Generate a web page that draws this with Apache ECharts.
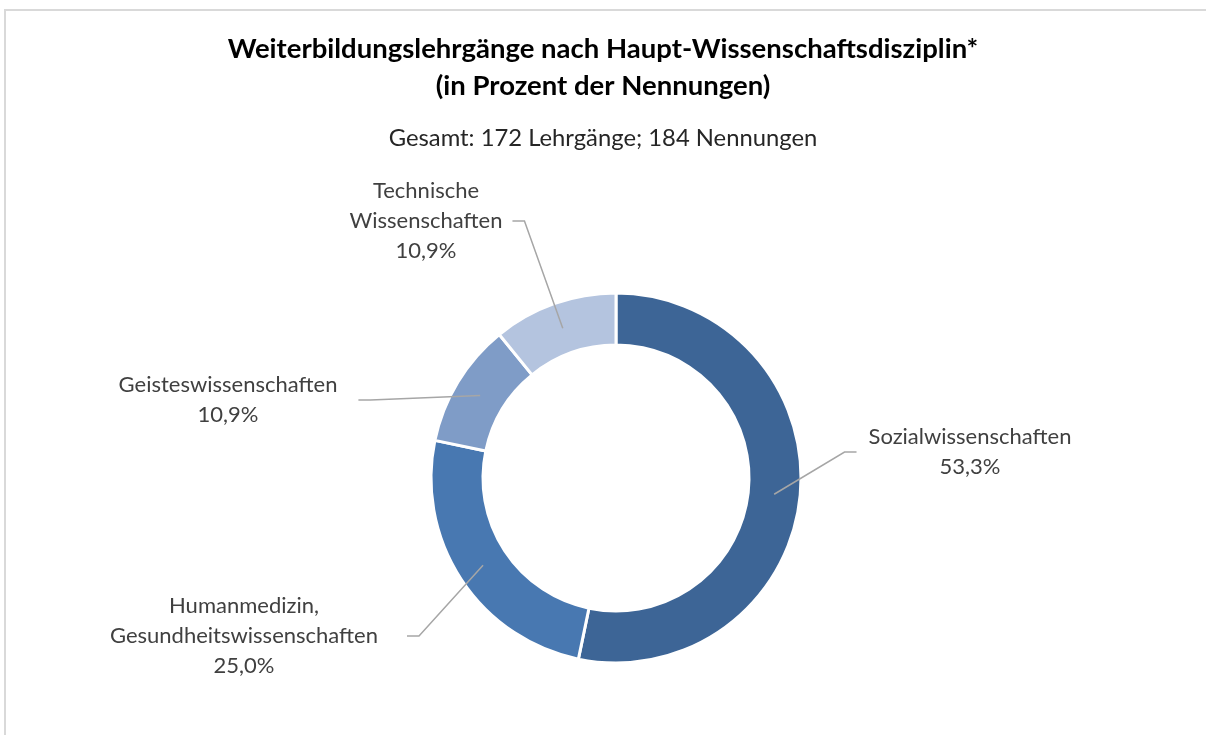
<!DOCTYPE html>
<html>
<head>
<meta charset="utf-8">
<style>
  html, body { margin: 0; padding: 0; background: #fff; }
  #chart { width: 1206px; height: 735px; }
</style>
<script src="https://cdn.jsdelivr.net/npm/echarts@6/dist/echarts.min.js"></script>
</head>
<body>
<div id="chart"></div>
<script>
// Nennungen je Hauptdisziplin (184 gesamt)
var categories = ['Sozialwissenschaften', 'Humanmedizin,\nGesundheitswissenschaften', 'Geisteswissenschaften', 'Technische\nWissenschaften'];
var counts = [98, 46, 20, 20];
var colors = ['#3d6596', '#4878b1', '#7f9cc7', '#b4c4df'];

var total = counts.reduce(function (a, b) { return a + b; }, 0);

// where Excel put each label (centre of text block)
var labelSpots = [[970, 452], [244, 636], [228, 400], [426, 221]];
var labelPad = [12, 29, 21, 10];

var font = 'Lato, "Open Sans", sans-serif';

function pct(v) {
    return (v / total * 100).toFixed(1).replace('.', ',') + '%';
}

var chart = echarts.init(document.getElementById('chart'));

var option = {
    animation: false,
    textStyle: { fontFamily: font },
    graphic: [{
        type: 'rect',
        silent: true,
        shape: { x: 5, y: 10, width: 1400, height: 900 },
        style: { fill: null, stroke: '#d9d9d9', lineWidth: 2 }
    }],
    title: [{
        text: 'Weiterbildungslehrgänge nach Haupt-Wissenschaftsdisziplin*\n(in Prozent der Nennungen)',
        left: 'center',
        top: 31,
        padding: 0,
        textStyle: {
            fontFamily: font,
            fontSize: 27.5,
            fontWeight: 'bold',
            color: '#000',
            lineHeight: 37
        }
    }, {
        text: 'Gesamt: 172 Lehrgänge; 184 Nennungen',
        left: 'center',
        top: 125,
        padding: 0,
        textStyle: {
            fontFamily: font,
            fontSize: 23.8,
            fontWeight: 'normal',
            color: '#262626',
            lineHeight: 26
        }
    }],
    series: [{
        // the ring itself
        type: 'pie',
        z: 2,
        center: [616, 478],
        radius: [133, 185],
        startAngle: 90,
        silent: true,
        label: { show: false },
        labelLine: { show: false },
        itemStyle: { borderColor: '#fff', borderWidth: 3 },
        data: categories.map(function (c, i) {
            return { name: c, value: counts[i], itemStyle: { color: colors[i] } };
        })
    }, {
        // invisible twin, only carries labels + leader lines from mid-ring
        type: 'pie',
        z: 6,
        center: [616, 478],
        radius: [0, 159],
        startAngle: 90,
        silent: true,
        itemStyle: { color: 'rgba(0,0,0,0)', borderWidth: 0 },
        label: {
            show: true,
            position: 'outside',
            fontFamily: font,
            fontSize: 22,
            lineHeight: 30,
            color: '#404040',
            align: 'center',
            formatter: function (p) {
                return p.name + '\n' + pct(p.value);
            }
        },
        labelLine: {
            show: true,
            length: 20,
            length2: 12,
            lineStyle: { color: '#a6a6a6', width: 1.5 }
        },
        labelLayout: function (p) {
            var s = labelSpots[p.dataIndex];
            return { x: s[0], y: s[1], align: 'center', verticalAlign: 'middle' };
        },
        data: categories.map(function (c, i) {
            return {
                name: c,
                value: counts[i],
                label: { padding: [0, labelPad[i]] }
            };
        })
    }]
};

chart.setOption(option);
</script>
</body>
</html>
